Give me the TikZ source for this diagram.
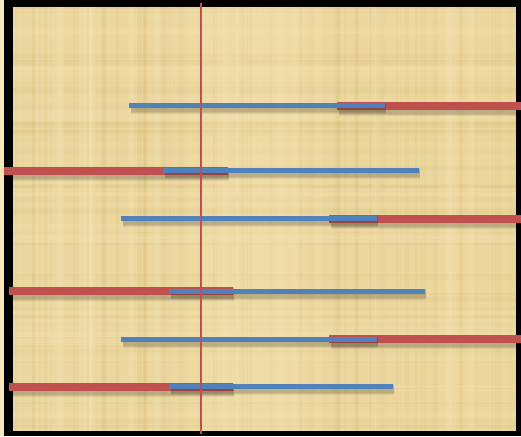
\documentclass[tikz,border=0pt]{standalone}
\definecolor{papyrus}{RGB}{236,215,158}
\definecolor{papyruslight}{RGB}{246,231,186}
\definecolor{papyrusdark}{RGB}{205,178,110}
\definecolor{barred}{RGB}{192,80,77}
\definecolor{barblue}{RGB}{79,129,189}
\tikzset{
  redbar/.style={draw=barred, line width=8pt},
  bluebar/.style={draw=barblue, line width=5pt},
  barshadow/.style={draw=black, opacity=0.07},
  cursorline/.style={draw=barred, line width=1.8pt},
}
\newcommand\drawbar[5]{% style, x1, x2, y, width
  \foreach \k in {1,2,3}{
    \draw[barshadow, line width=#5+2*\k] (#2+2,#4+3) -- (#3+1,#4+3);
  }
  \draw[#1] (#2,#4) -- (#3,#4);
}
\begin{document}
\begin{tikzpicture}[x=1pt,y=-1pt]
\useasboundingbox (0,0) rectangle (521,436);
% frame
\fill[papyruslight] (0,0) rectangle (521,436);
\fill[black] (4,0) rectangle (521,436);
\fill[papyrus] (13,7) rectangle (516,431);
% papyrus texture
\begin{scope}
  \clip (13,7) rectangle (516,431);
  \pgfmathsetseed{7}
  \foreach \i in {1,...,70}{
    \pgfmathsetmacro\xx{13+503*rnd}
    \pgfmathsetmacro\ww{1+5*rnd}
    \pgfmathsetmacro\oo{0.04+0.10*rnd}
    \fill[papyrusdark, opacity=\oo] (\xx,7) rectangle ++(\ww,424);
  }
  \foreach \i in {1,...,50}{
    \pgfmathsetmacro\yy{7+424*rnd}
    \pgfmathsetmacro\ww{1+5*rnd}
    \pgfmathsetmacro\oo{0.04+0.10*rnd}
    \fill[papyrusdark, opacity=\oo] (13,\yy) rectangle ++(503,\ww);
  }
  \foreach \i in {1,...,40}{
    \pgfmathsetmacro\xx{13+503*rnd}
    \pgfmathsetmacro\ww{2+8*rnd}
    \pgfmathsetmacro\oo{0.10+0.15*rnd}
    \fill[papyruslight, opacity=\oo] (\xx,7) rectangle ++(\ww,424);
  }
  \foreach \i in {1,...,30}{
    \pgfmathsetmacro\yy{7+424*rnd}
    \pgfmathsetmacro\ww{2+8*rnd}
    \pgfmathsetmacro\oo{0.10+0.15*rnd}
    \fill[papyruslight, opacity=\oo] (13,\yy) rectangle ++(503,\ww);
  }
  \fill[papyruslight, opacity=0.25] (200,7) rectangle (300,431);
\end{scope}
% row 1
\drawbar{redbar}{337}{521}{105.5}{8}
\drawbar{bluebar}{129}{385}{105.5}{5}
% row 2
\drawbar{redbar}{4}{228}{170.5}{8}
\drawbar{bluebar}{163}{419}{170.5}{5}
% row 3
\drawbar{redbar}{329}{521}{218.5}{8}
\drawbar{bluebar}{121}{377}{218.5}{5}
% row 4
\drawbar{redbar}{9}{233}{291}{8}
\drawbar{bluebar}{169}{425}{291}{5}
% row 5
\drawbar{redbar}{329}{521}{339}{8}
\drawbar{bluebar}{121}{377}{339}{5}
% row 6
\drawbar{redbar}{9}{233}{386.5}{8}
\drawbar{bluebar}{169}{393}{386.5}{5}
% vertical cursor
\coordinate (ctop) at (201,3);
\coordinate (cbot) at (201,434);
\draw[cursorline] (ctop) -- (cbot);
\end{tikzpicture}
\end{document}
